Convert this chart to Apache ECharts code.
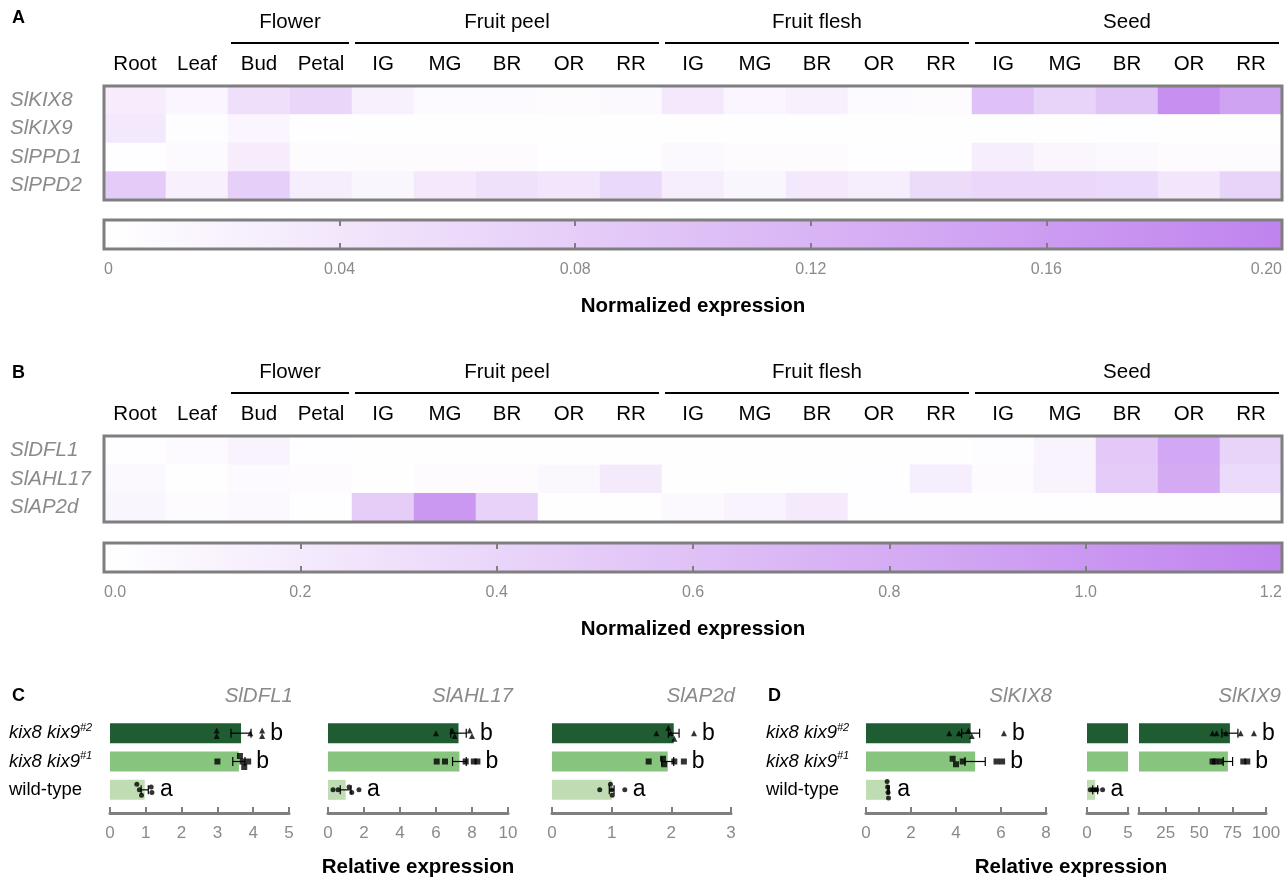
<!DOCTYPE html>
<html><head><meta charset="utf-8">
<script src="https://cdn.jsdelivr.net/npm/echarts@6/dist/echarts.min.js"></script>
<style>html,body{margin:0;padding:0;background:#fff}#c{width:1288px;height:881px}</style>
</head><body><div id="c"></div>
<script>
// ---------- Heatmap data ----------
const tissues = ['Root','Leaf','Bud','Petal','IG','MG','BR','OR','RR','IG','MG','BR','OR','RR','IG','MG','BR','OR','RR'];
const tissueGroups = [
  {name:'Flower', from:2, to:3},
  {name:'Fruit peel', from:4, to:8},
  {name:'Fruit flesh', from:9, to:13},
  {name:'Seed', from:14, to:18}
];
const genesA = ['SlKIX8','SlKIX9','SlPPD1','SlPPD2'];
const exprKIX8 = [0.030,0.016,0.052,0.066,0.022,0.008,0.008,0.007,0.010,0.035,0.016,0.022,0.008,0.007,0.100,0.070,0.095,0.180,0.150];
const exprKIX9 = [0.035,0.005,0.016,0.003,0.002,0.002,0.002,0.002,0.002,0.002,0.002,0.002,0.002,0.002,0.002,0.002,0.003,0.002,0.002];
const exprPPD1 = [0.003,0.008,0.030,0.007,0.007,0.006,0.006,0.004,0.004,0.010,0.006,0.006,0.003,0.003,0.028,0.014,0.010,0.007,0.007];
const exprPPD2 = [0.082,0.022,0.078,0.028,0.015,0.035,0.048,0.040,0.062,0.028,0.015,0.035,0.028,0.058,0.065,0.065,0.060,0.040,0.070];
const genesB = ['SlDFL1','SlAHL17','SlAP2d'];
const exprDFL1 = [0.02,0.05,0.12,0.02,0.01,0.01,0.01,0.01,0.01,0.01,0.01,0.01,0.01,0.01,0.03,0.12,0.52,0.85,0.42];
const exprAHL17 = [0.07,0.01,0.05,0.04,0.01,0.04,0.04,0.08,0.20,0.01,0.01,0.01,0.02,0.17,0.04,0.12,0.50,0.82,0.36];
const exprAP2d = [0.09,0.04,0.06,0.02,0.48,1.00,0.44,0.01,0.01,0.06,0.12,0.20,0.02,0.01,0.01,0.02,0.01,0.01,0.01];
const scaleMaxA = 0.20, scaleStepA = 0.04;
const scaleMaxB = 1.2, scaleStepB = 0.2;

// ---------- Bar panel data ----------
const lines = ['wild-type','kix8 kix9#1','kix8 kix9#2'];
const DFL1_mean = [0.97, 3.60, 3.66];
const DFL1_err  = [0.10, 0.17, 0.28];
const DFL1_pts  = [[0.75,0.82,0.88,1.15,1.17],[3.00,3.63,3.70,3.75,3.86],[2.98,2.98,3.92,4.25,4.25]];
const DFL1_let  = ['a','b','b'];
const AHL17_mean = [0.98, 7.30, 7.25];
const AHL17_err  = [0.30, 0.38, 0.43];
const AHL17_pts  = [[0.28,0.56,1.17,1.32,1.72],[6.04,6.50,7.65,8.10,8.30],[6.00,6.90,7.04,7.87,8.00]];
const AHL17_let  = ['a','b','b'];
const AP2d_mean = [1.00, 1.94, 2.04];
const AP2d_err  = [0.04, 0.10, 0.09];
const AP2d_pts  = [[0.80,0.98,1.00,1.01,1.22],[1.62,1.86,1.88,2.05,2.21],[1.75,1.95,1.99,2.05,2.38]];
const AP2d_let  = ['a','b','b'];
const KIX8_mean = [1.00, 4.85, 4.65];
const KIX8_err  = [0.03, 0.45, 0.40];
const KIX8_pts  = [[0.94,0.96,0.98,1.00],[3.85,4.00,4.30,5.80,6.05],[3.70,4.13,4.55,4.70,6.13]];
const KIX8_let  = ['a','b','b'];
const KIX9_mean = [1.00, 71.5, 73.0];
const KIX9_err  = [0.30, 3.5, 6.0];
const KIX9_pts  = [[0.40,0.70,1.00,1.20,1.90],[60,62,66,83,86],[60,63,70,81,91]];
const KIX9_let  = ['a','b','b'];

// ---------- styles ----------
const fam = '"Liberation Sans", Arial, Helvetica, sans-serif';
const lowC = '#ffffff', highC = '#c083ee';
const grayTxt = '#8a8a8a', grayLine = '#7f7f7f';
const barColors = ['#bfdcb3','#87c47e','#1f5c32'];
const symbols = ['circle','rect','triangle'];
const symSizes = [5,6,6];

const option = {
  animation:false,
  textStyle:{fontFamily:fam},
  title:[],
  grid:[], xAxis:[], yAxis:[], series:[], visualMap:[]
};

function hmData(rows){const d=[];rows.forEach((r,yi)=>r.forEach((v,xi)=>d.push([xi,yi,v])));return d;}

function groupRender(params, api){
  const g = tissueGroups[params.dataIndex];
  const c0 = api.coord([g.from,0]), c1 = api.coord([g.to,0]);
  const bw = api.size([1,0])[0], rh = api.size([0,1])[1];
  const top = c0[1]-rh/2;
  const x0 = c0[0]-bw/2+3, x1 = c1[0]+bw/2-3;
  return {type:'group', children:[
    {type:'line', shape:{x1:x0,y1:top-43,x2:x1,y2:top-43}, style:{stroke:'#000',lineWidth:2}},
    {type:'text', style:{text:g.name, x:(x0+x1)/2, y:top-64, align:'center', verticalAlign:'middle', fontSize:20.5, fill:'#000', fontFamily:fam}}
  ]};
}

function addHeatmap(genes, rows, top, height, cbTop, maxV, step, fmt, titleTop){
  const gi = option.grid.length;
  option.grid.push({left:104, top:top, width:1178, height:height, show:true, z:10, backgroundColor:'transparent', borderColor:grayLine, borderWidth:3});
  const xi = option.xAxis.length, yi = option.yAxis.length;
  option.xAxis.push({gridIndex:gi, type:'category', data:tissues, position:'top', axisLine:{show:false}, axisTick:{show:false},
    axisLabel:{color:'#000', fontSize:20.5, margin:11, interval:0}});
  option.yAxis.push({gridIndex:gi, type:'category', data:genes, inverse:true, axisLine:{show:false}, axisTick:{show:false},
    axisLabel:{color:grayTxt, fontSize:20.5, fontStyle:'italic', align:'left', margin:94}});
  const si = option.series.length;
  option.series.push({type:'heatmap', xAxisIndex:xi, yAxisIndex:yi, data:hmData(rows)});
  option.visualMap.push({type:'continuous', show:false, seriesIndex:si, dimension:2, min:0, max:maxV, inRange:{color:[lowC, highC]}});
  option.series.push({type:'custom', xAxisIndex:xi, yAxisIndex:yi, renderItem:groupRender, data:tissueGroups.map(g=>[g.from,0]), silent:true});
  // colorbar
  const ci = option.grid.length;
  option.grid.push({left:104, top:cbTop, width:1178, height:29, show:true, z:10, backgroundColor:'transparent', borderColor:grayLine, borderWidth:3});
  const tickStyle = {show:true, inside:true, length:6, lineStyle:{color:grayLine, width:2}};
  const cxi = option.xAxis.length;
  option.xAxis.push({gridIndex:ci, type:'value', min:0, max:maxV, interval:step, position:'bottom', z:12,
    axisLine:{show:false}, axisTick:tickStyle, splitLine:{show:false},
    axisLabel:{color:grayTxt, fontSize:16, margin:13, formatter:fmt, alignMinLabel:'left', alignMaxLabel:'right'}});
  option.xAxis.push({gridIndex:ci, type:'value', min:0, max:maxV, interval:step, position:'top', z:12,
    axisLine:{show:false}, axisTick:tickStyle, splitLine:{show:false}, axisLabel:{show:false}});
  const cyi = option.yAxis.length;
  option.yAxis.push({gridIndex:ci, type:'category', data:['scale'], show:false});
  option.series.push({type:'bar', xAxisIndex:cxi, yAxisIndex:cyi, barWidth:'100%', data:[maxV], silent:true,
    itemStyle:{color:{type:'linear',x:0,y:0,x2:1,y2:0,colorStops:[{offset:0,color:lowC},{offset:1,color:highC}]}}});
  option.title.push({text:'Normalized expression', left:693, top:titleTop, textAlign:'center', padding:0,
    textStyle:{fontSize:20.5, fontWeight:'bold', color:'#000', fontFamily:fam}});
}

addHeatmap(genesA, [exprKIX8,exprKIX9,exprPPD1,exprPPD2], 86, 114, 220, scaleMaxA, scaleStepA,
  v => v===0 ? '0' : v.toFixed(2), 296);
addHeatmap(genesB, [exprDFL1,exprAHL17,exprAP2d], 436, 86, 543, scaleMaxB, scaleStepB,
  v => v.toFixed(1), 619);

// ---------- bar panels ----------
function jitter(vals, range){
  const idx = vals.map((v,i)=>i).sort((a,b)=>vals[a]-vals[b]);
  const off = new Array(vals.length).fill(0);
  const thr = range*0.02;
  let start = 0;
  for(let k=1;k<=idx.length;k++){
    if(k===idx.length || vals[idx[k]]-vals[idx[k-1]]>thr){
      const n=k-start;
      for(let j=start;j<k;j++) off[idx[j]] = (j-start-(n-1)/2)*5.5;
      start=k;
    }
  }
  return off;
}

function errRender(params, api){
  const lo = api.coord([api.value(0), api.value(2)]);
  const hi = api.coord([api.value(1), api.value(2)]);
  const h = 4.5, st = {stroke:'#000', lineWidth:1.2};
  return {type:'group', children:[
    {type:'line', shape:{x1:lo[0],y1:lo[1],x2:hi[0],y2:hi[1]}, style:st},
    {type:'line', shape:{x1:lo[0],y1:lo[1]-h,x2:lo[0],y2:lo[1]+h}, style:st},
    {type:'line', shape:{x1:hi[0],y1:hi[1]-h,x2:hi[0],y2:hi[1]+h}, style:st}
  ]};
}

function yLabelFmt(v){
  if(v.indexOf('kix9')>=0){ const p=v.split('kix9'); return '{it|'+p[0]+'kix9}{sup|'+p[1]+'}'; }
  return '{n|'+v+'}';
}

function addBarGrid(g, mean, err, pts, letters, showLabels){
  const gi = option.grid.length;
  option.grid.push({left:g.left, top:719, width:g.width, height:85});
  const xi = option.xAxis.length, yi = option.yAxis.length;
  const xa = {gridIndex:gi, type:'value', min:g.min, max:g.max, position:'bottom', offset:9,
    axisLine:{show:true, onZero:false, lineStyle:{color:grayLine, width:3}},
    axisTick:{show:true, inside:true, length:6, lineStyle:{color:grayLine, width:2}},
    splitLine:{show:false},
    axisLabel:{color:grayTxt, fontSize:17, margin:12}};
  if(g.interval) xa.interval = g.interval;
  if(g.ticks){ xa.axisTick.customValues = g.ticks; xa.axisLabel.customValues = g.labels; }
  option.xAxis.push(xa);
  option.yAxis.push({gridIndex:gi, type:'category', data:lines, axisLine:{show:false}, axisTick:{show:false},
    axisLabel:{show:showLabels, align:'left', margin:g.labelMargin||100, formatter:yLabelFmt,
      rich:{
        it:{fontSize:18.5, fontStyle:'italic', color:'#000', lineHeight:22, fontFamily:fam},
        sup:{fontSize:11, fontStyle:'italic', color:'#000', lineHeight:12, verticalAlign:'top', fontFamily:fam},
        n:{fontSize:18.5, color:'#000', lineHeight:22, fontFamily:fam}
      }}});
  option.series.push({type:'bar', xAxisIndex:xi, yAxisIndex:yi, barWidth:20, z:2, silent:true,
    data: mean.map((m,i)=>({value:m, itemStyle:{color:barColors[i]}}))});
  option.series.push({type:'custom', xAxisIndex:xi, yAxisIndex:yi, clip:true, z:3, silent:true, renderItem:errRender,
    encode:{x:[0,1], y:2},
    data: mean.map((m,i)=>[m-err[i], m+err[i], i])});
  const range = g.max-g.min;
  const sdata = [];
  pts.forEach((arr,i)=>{
    const off = jitter(arr, range);
    arr.forEach((v,k)=>sdata.push({value:[v,i], symbol:symbols[i], symbolSize:symSizes[i], symbolOffset:[0,off[k]]}));
  });
  option.series.push({type:'scatter', xAxisIndex:xi, yAxisIndex:yi, z:4, silent:true, clip:true,
    itemStyle:{color:'#000'}, data:sdata});
  const ldata = [];
  mean.forEach((m,i)=>{
    const a = Math.max(Math.max.apply(null, pts[i]), m+err[i]);
    if(a>=g.min && a<=g.max) ldata.push([a,i]);
  });
  option.series.push({type:'custom', xAxisIndex:xi, yAxisIndex:yi, z:5, silent:true, clip:false,
    encode:{x:0,y:1}, data:ldata,
    renderItem:(params, api)=>{
      const p = api.coord([api.value(0), api.value(1)]);
      return {type:'text', style:{text:letters[api.value(1)], x:p[0]+8, y:p[1], align:'left', verticalAlign:'middle', fontSize:23, fill:'#000', fontFamily:fam}};
    }});
}

function addGeneTitle(text, rightEdge){
  option.title.push({text:text, right:1288-rightEdge, top:686, padding:0,
    textStyle:{fontSize:20.5, fontStyle:'italic', fontWeight:'normal', color:grayTxt, fontFamily:fam}});
}

addBarGrid({left:110,width:179,min:0,max:5,interval:1,labelMargin:101}, DFL1_mean, DFL1_err, DFL1_pts, DFL1_let, true);
addGeneTitle('SlDFL1', 293);
addBarGrid({left:328,width:180,min:0,max:10,interval:2}, AHL17_mean, AHL17_err, AHL17_pts, AHL17_let, false);
addGeneTitle('SlAHL17', 513);
addBarGrid({left:552,width:179,min:0,max:3,interval:1}, AP2d_mean, AP2d_err, AP2d_pts, AP2d_let, false);
addGeneTitle('SlAP2d', 735);
addBarGrid({left:866,width:180,min:0,max:8,interval:2,labelMargin:100}, KIX8_mean, KIX8_err, KIX8_pts, KIX8_let, true);
addGeneTitle('SlKIX8', 1052);
addBarGrid({left:1087,width:41,min:0,max:5,interval:5}, KIX9_mean, KIX9_err, KIX9_pts, KIX9_let, false);
addBarGrid({left:1139,width:127,min:5,max:100,ticks:[5,25,50,75,100],labels:[25,50,75,100]}, KIX9_mean, KIX9_err, KIX9_pts, KIX9_let, false);
addGeneTitle('SlKIX9', 1281);

// panel letters and axis titles
[['A',12,9],['B',12,364],['C',12,687],['D',768,687]].forEach(t=>{
  option.title.push({text:t[0], left:t[1], top:t[2], padding:0, textStyle:{fontSize:18, fontWeight:'bold', color:'#000', fontFamily:fam}});
});
[[418,'Relative expression'],[1071,'Relative expression']].forEach(t=>{
  option.title.push({text:t[1], left:t[0], top:857, padding:0, textAlign:'center', textStyle:{fontSize:20.5, fontWeight:'bold', color:'#000', fontFamily:fam}});
});

const chart = echarts.init(document.getElementById('c'), null, {renderer:'canvas'});
chart.setOption(option);
</script></body></html>
